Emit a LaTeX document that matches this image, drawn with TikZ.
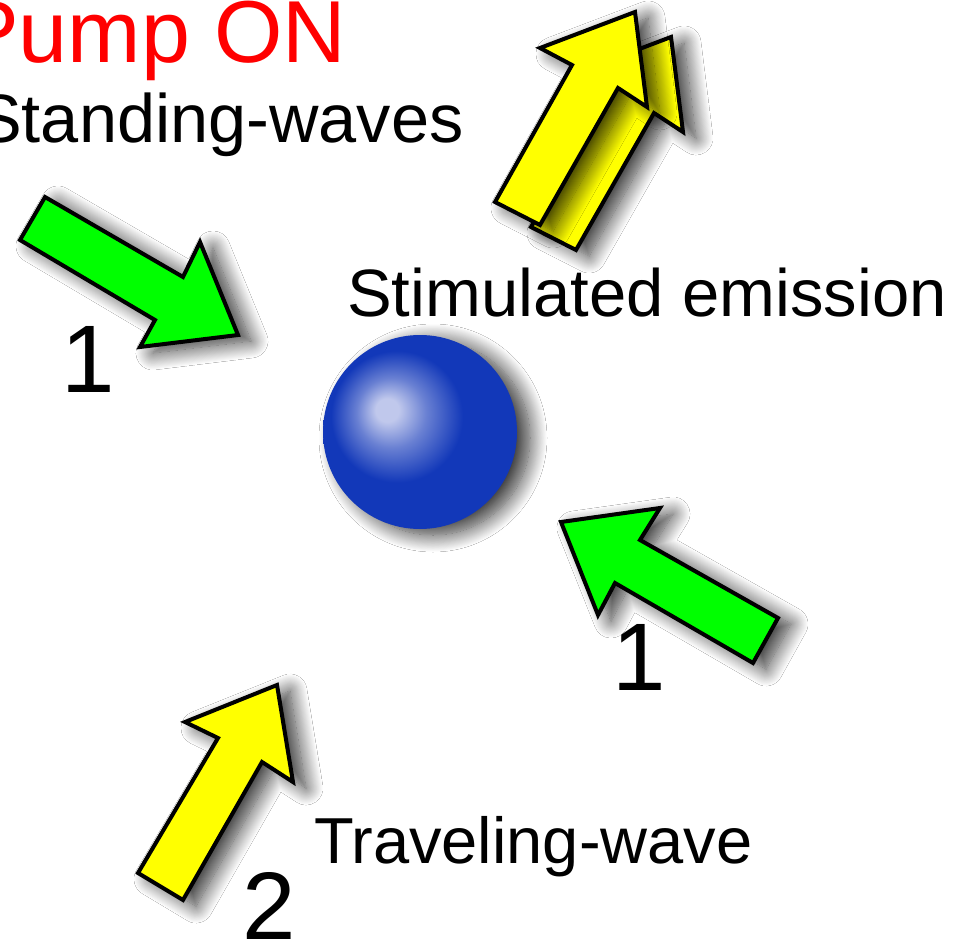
\documentclass[tikz,border=0pt]{standalone}
\usepackage{fontspec}
\setmainfont{Liberation Sans}
\usetikzlibrary{shadows.blur}

\definecolor{atomblue}{RGB}{18,56,185}
\definecolor{atomglow}{RGB}{192,200,236}
\definecolor{pumpgreen}{RGB}{0,255,0}
\definecolor{photonyellow}{RGB}{255,255,0}

\pgfdeclareradialshading{atomshade}{\pgfpoint{-9bp}{6bp}}{color(0bp)=(atomglow); color(3bp)=(atomglow); color(9bp)=(atomglow!50!atomblue); color(17bp)=(atomblue); color(50bp)=(atomblue)}

\begin{document}
\begin{tikzpicture}[x=1pt, y=-1pt,
    photon/.style={draw=black, line width=4pt, line join=miter},
    dropshade/.style={blur shadow={shadow xshift=13pt, shadow yshift=-6pt,
        shadow blur radius=17pt, shadow opacity=80, shadow blur steps=20}},
    lbl/.style={anchor=base west, inner sep=0pt}]
    \clip (0,0) rectangle (969,942);
    \fill[white] (0,0) rectangle (969,942);

    % atom
    \coordinate (atom) at (420,432);
    \shade[shading=atomshade, dropshade] (atom) circle (97);

    % pump photons (standing waves)
    \draw[photon, fill=pumpgreen, dropshade] (45,197) -- (183,277) -- (200,242) -- (238,335) -- (140,347) -- (155,320) -- (20,240) -- cycle;
    \draw[photon, fill=pumpgreen, dropshade] (561,522) -- (660,508) -- (640,540) -- (778,618) -- (753,663) -- (615,583) -- (598,615) -- cycle;

    % traveling-wave photon
    \draw[photon, fill=photonyellow, dropshade] (277,685) -- (293,782) -- (262,762) -- (183,900) -- (138,873) -- (218,738) -- (185,722) -- cycle;

    % emitted pair, back one first
    \draw[photon, fill=photonyellow, dropshade] (671,37) -- (683,132) -- (654,113) -- (576,250) -- (531,227) -- (608,90) -- (576,73) -- cycle;
    \draw[photon, fill=photonyellow, dropshade] (635,12) -- (647,107) -- (618,88) -- (540,225) -- (495,202) -- (572,65) -- (540,48) -- cycle;

    \node[lbl, text=red, font=\fontsize{88}{100}\selectfont] (pump) at (-40,63) {Pump ON};
    \node[lbl, font=\fontsize{68.5}{80}\selectfont] (sw) at (-24,142) {Standing-waves};
    \node[lbl, font=\fontsize{67}{80}\selectfont] (se) at (347,316) {Stimulated emission};
    \node[lbl, font=\fontsize{65}{78}\selectfont] (tw) at (314,863) {Traveling-wave};
    \node[lbl, font=\fontsize{96}{110}\selectfont] (n1a) at (61,392) {1};
    \node[lbl, font=\fontsize{96}{110}\selectfont] (n1b) at (612,690) {1};
    \node[lbl, font=\fontsize{96}{110}\selectfont] (n2) at (242,939) {2};
\end{tikzpicture}
\end{document}
